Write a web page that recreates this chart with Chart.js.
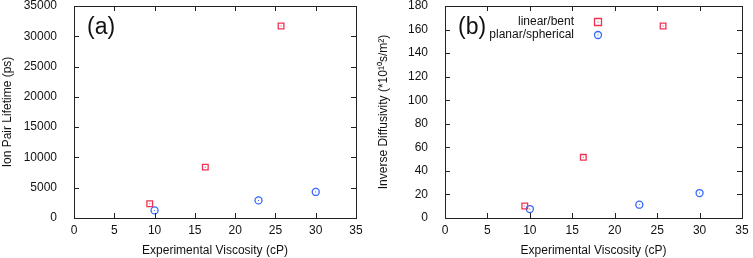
<!DOCTYPE html>
<html>
<head>
<meta charset="utf-8">
<script src="https://cdn.jsdelivr.net/npm/chart.js@4"></script>
<style>
  body { margin: 0; background: #fff; }
  .wrap { display: flex; width: 753px; height: 258px; }
  canvas { display: block; }
</style>
</head>
<body>
<div class="wrap">
  <canvas id="chartA" width="376" height="258"></canvas>
  <canvas id="chartB" width="377" height="258"></canvas>
</div>
<script>
// viscosity (cP)
var linearX = [9.4, 16.3, 25.7];
var planarX = [10.0, 22.9, 30.0];
// (a) ion pair lifetime (ps)
var lifeLinear = [2350, 8400, 31700];
var lifePlanar = [1250, 2900, 4300];
// (b) inverse diffusivity (*10^10 s/m^2)
var invLinear = [10.2, 51.5, 163];
var invPlanar = [7.6, 11.3, 21.2];
var seriesNames = ["linear/bent", "planar/spherical"];

var RED = "#ee3355";
var BLUE = "#3366ff";
var FONT = "'Liberation Sans', Arial, sans-serif";

function pts(xs, ys) {
  return xs.map(function (x, i) { return { x: x, y: ys[i] }; });
}

function drawMarker(ctx, style, color, cx, cy) {
  ctx.strokeStyle = color;
  ctx.fillStyle = color;
  ctx.lineWidth = 1.3;
  ctx.beginPath();
  if (style === "rect") ctx.rect(cx - 3.5, cy - 3.5, 7, 7);
  else ctx.arc(cx, cy, 3.5, 0, Math.PI * 2);
  ctx.stroke();
  ctx.fillRect(cx - 0.5, cy - 0.5, 1, 1);
}

// box, mirrored inward ticks, panel label and inset key
var framePlugin = {
  id: "frame",
  afterDatasetsDraw: function (chart, args, opts) {
    var ctx = chart.ctx, a = chart.chartArea;
    var x = chart.scales.x, y = chart.scales.y;
    ctx.save();
    // center dots like the gnuplot markers
    chart.data.datasets.forEach(function (ds, i) {
      chart.getDatasetMeta(i).data.forEach(function (el) {
        ctx.fillStyle = ds.borderColor;
        ctx.fillRect(el.x - 0.5, el.y - 0.5, 1, 1);
      });
    });
    ctx.strokeStyle = "#222";
    ctx.lineWidth = 1;
    ctx.strokeRect(Math.round(a.left) + 0.5, Math.round(a.top) + 0.5,
      Math.round(a.right - a.left), Math.round(a.bottom - a.top));
    ctx.beginPath();
    x.ticks.forEach(function (t) {
      var px = Math.round(x.getPixelForValue(t.value)) + 0.5;
      ctx.moveTo(px, a.bottom); ctx.lineTo(px, a.bottom - 5);
      ctx.moveTo(px, a.top); ctx.lineTo(px, a.top + 5);
    });
    y.ticks.forEach(function (t) {
      var py = Math.round(y.getPixelForValue(t.value)) + 0.5;
      ctx.moveTo(a.left, py); ctx.lineTo(a.left + 5, py);
      ctx.moveTo(a.right, py); ctx.lineTo(a.right - 5, py);
    });
    ctx.stroke();

    ctx.fillStyle = "#111";
    ctx.font = "23px " + FONT;
    ctx.textAlign = "left";
    ctx.textBaseline = "alphabetic";
    ctx.fillText(opts.label, a.left + 13, a.top + 28);

    if (opts.key) {
      ctx.font = "12px " + FONT;
      ctx.textAlign = "right";
      ctx.textBaseline = "middle";
      chart.data.datasets.forEach(function (ds, i) {
        var yy = a.top + 16 + i * 13;
        ctx.fillStyle = "#111";
        ctx.fillText(ds.label, a.right - 168, yy);
        drawMarker(ctx, ds.pointStyle, ds.borderColor, a.right - 144, yy);
      });
    }
    ctx.restore();
  }
};

function makeChart(id, ysA, ysB, yMax, yStep, yTitle, label, key, yWidth, padRight) {
  return new Chart(document.getElementById(id), {
    type: "scatter",
    data: {
      datasets: [
        {
          label: seriesNames[0],
          data: pts(linearX, ysA),
          pointStyle: "rect",
          pointRadius: 4,
          pointBorderWidth: 1.3,
          borderColor: RED,
          backgroundColor: "rgba(0,0,0,0)"
        },
        {
          label: seriesNames[1],
          data: pts(planarX, ysB),
          pointStyle: "circle",
          pointRadius: 3.5,
          pointBorderWidth: 1.3,
          borderColor: BLUE,
          backgroundColor: "rgba(0,0,0,0)"
        }
      ]
    },
    options: {
      responsive: false,
      animation: false,
      layout: { padding: { top: 6, right: padRight, left: 0, bottom: 0 } },
      scales: {
        x: {
          min: 0, max: 35,
          ticks: { stepSize: 5, color: "#111", font: { family: FONT, size: 12 }, padding: 5, maxRotation: 0,
            callback: function (v) { return String(v); } },
          grid: { display: false, drawTicks: false },
          border: { display: false },
          title: { display: true, text: "Experimental Viscosity (cP)", color: "#111", font: { family: FONT, size: 12 }, padding: { top: 2, bottom: 0 } },
          afterFit: function (s) { s.height = 40; s.paddingLeft = 0; s.paddingRight = 0; }
        },
        y: {
          min: 0, max: yMax,
          ticks: { stepSize: yStep, color: "#111", font: { family: FONT, size: 12 }, padding: 9,
            callback: function (v) { return String(v); } },
          grid: { display: false },
          border: { display: false },
          title: { display: true, text: yTitle, color: "#111", font: { family: FONT, size: 12 }, padding: { top: 0, bottom: 2 } },
          afterFit: function (s) { s.width = yWidth; s.paddingTop = 0; s.paddingBottom = 0; }
        }
      },
      plugins: {
        legend: { display: false },
        tooltip: { enabled: false },
        frame: { label: label, key: key }
      }
    },
    plugins: [framePlugin]
  });
}

var chartA = makeChart("chartA", lifeLinear, lifePlanar, 35000, 5000,
  "Ion Pair Lifetime (ps)", "(a)", false, 74, 20);
var chartB = makeChart("chartB", invLinear, invPlanar, 180, 20,
  "Inverse Diffusivity (*10\u00b9\u2070s/m\u00b2)", "(b)", true, 69, 11);
</script>
</body>
</html>
